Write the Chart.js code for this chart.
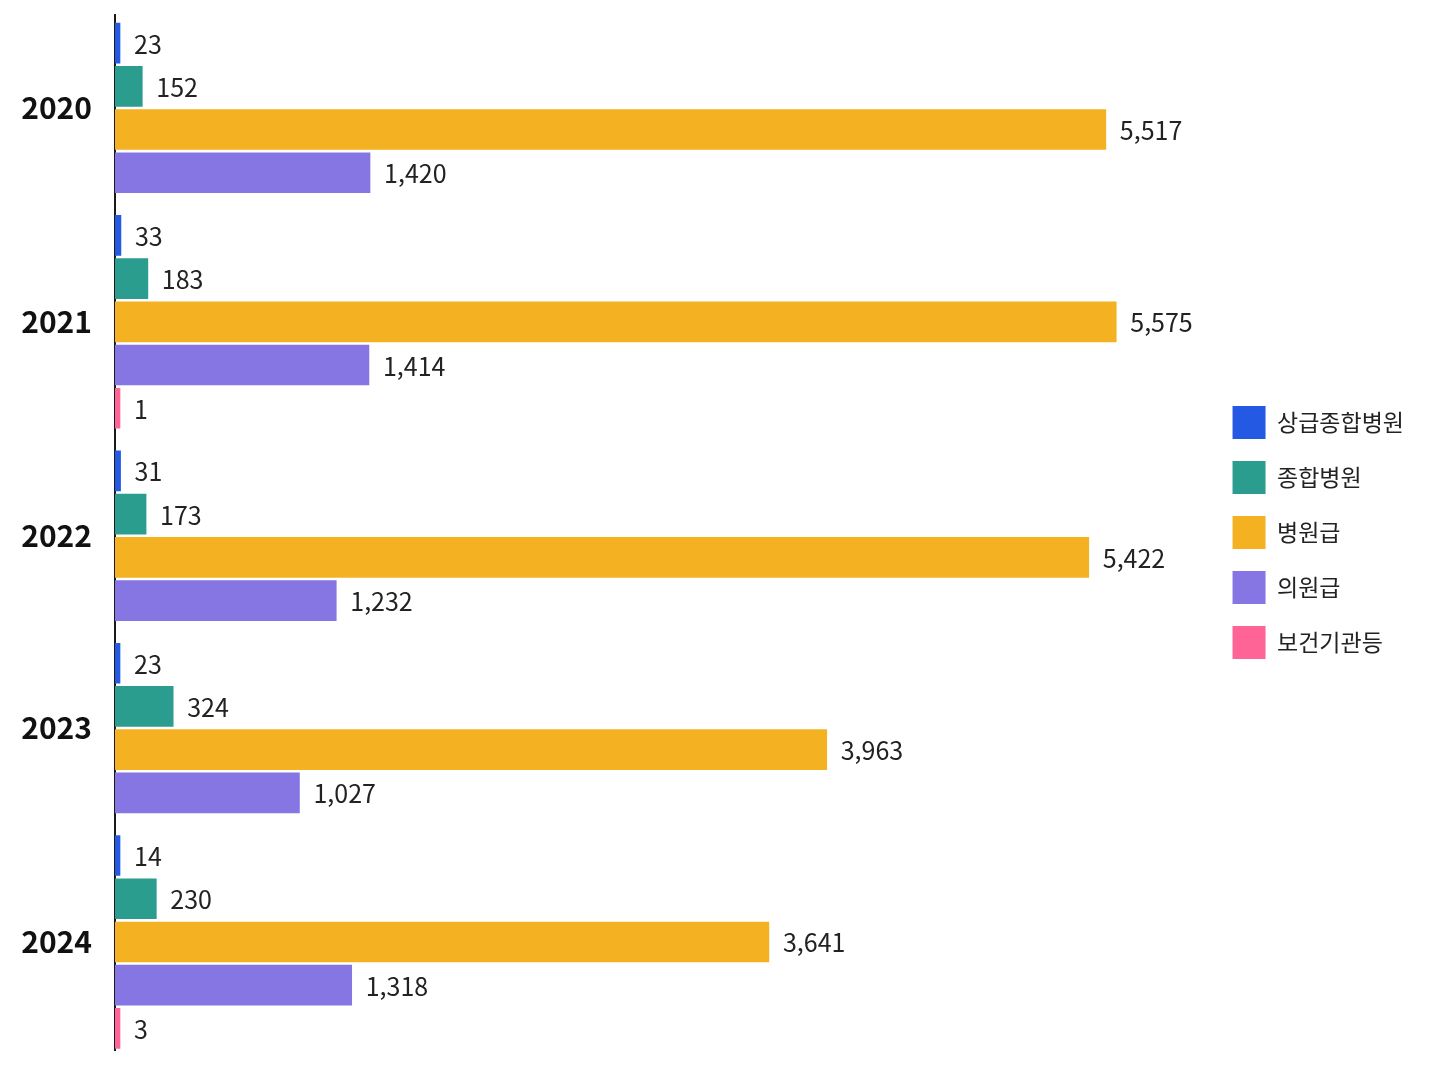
<!DOCTYPE html>
<html lang="ko">
<head>
<meta charset="UTF-8">
<title>연도별 의료기관 종별 현황</title>
<script src="https://cdn.jsdelivr.net/npm/chart.js@4.4.1/dist/chart.umd.min.js"></script>
<style>
  html, body { margin: 0; padding: 0; background: #fff; }
  .chart-wrap { width: 1448px; height: 1086px; position: relative; }
</style>
</head>
<body>
<div class="chart-wrap"><canvas id="mainChart"></canvas></div>
<script>
// 데이터
const years = ['2020', '2021', '2022', '2023', '2024'];
const seriesNames = ['상급종합병원', '종합병원', '병원급', '의원급', '보건기관등'];
const tertiaryValues = [23, 33, 31, 23, 14];
const generalValues = [152, 183, 173, 324, 230];
const hospitalValues = [5517, 5575, 5422, 3963, 3641];
const clinicValues = [1420, 1414, 1232, 1027, 1318];
const publicValues = [null, 1, null, null, 3];
const seriesColors = ['#2459e4', '#2a9d8f', '#f4b223', '#8676e3', '#ff6496'];

const FONT = "'Noto Sans CJK KR', 'Noto Sans', sans-serif";
const GROUP_GAP = 0.45;

// 각 막대의 행 위치 계산 (값이 없는 항목은 건너뜀)
function buildRows() {
    const allSeries = [tertiaryValues, generalValues, hospitalValues, clinicValues, publicValues];
    const points = allSeries.map(() => []);
    const centers = [];
    let pos = 0;
    years.forEach((year, i) => {
        const first = pos;
        allSeries.forEach((values, s) => {
            if (values[i] === null) return;
            points[s].push({ x: values[i], y: pos });
            pos += 1;
        });
        centers.push((first + pos - 1) / 2);
        pos += GROUP_GAP;
    });
    return { points, centers, last: pos - 1 - GROUP_GAP };
}

// 막대 끝에 값 표시
const valueLabelPlugin = {
    id: 'valueLabels',
    afterDatasetsDraw(chart) {
        const ctx = chart.ctx;
        ctx.save();
        ctx.font = `25px ${FONT}`;
        ctx.fillStyle = '#222';
        ctx.textAlign = 'left';
        ctx.textBaseline = 'middle';
        chart.data.datasets.forEach((ds, di) => {
            const meta = chart.getDatasetMeta(di);
            meta.data.forEach((bar, j) => {
                ctx.fillText(ds.data[j].x.toLocaleString('en-US'), bar.x + 14, bar.y + 1);
            });
        });
        ctx.restore();
    }
};

const rows = buildRows();

new Chart(document.getElementById('mainChart'), {
    type: 'bar',
    data: {
        datasets: seriesNames.map((name, s) => ({
            label: name,
            data: rows.points[s],
            backgroundColor: seriesColors[s],
            barThickness: 40,
            minBarLength: 5,
            grouped: false
        }))
    },
    options: {
        indexAxis: 'y',
        responsive: true,
        maintainAspectRatio: false,
        animation: false,
        layout: { padding: { top: 15, bottom: 36, left: 0, right: 34 } },
        scales: {
            x: {
                type: 'linear',
                display: false,
                min: 0,
                max: 6100
            },
            y: {
                type: 'linear',
                reverse: true,
                offset: false,
                min: -0.65,
                max: rows.last + 0.5,
                grid: { display: false, drawTicks: false },
                border: { display: true, color: '#1a1a1a', width: 2 },
                afterBuildTicks: (axis) => {
                    axis.ticks = rows.centers.map(v => ({ value: v }));
                },
                afterFit: (axis) => {
                    axis.width = 115;
                    axis.paddingTop = 0;
                    axis.paddingBottom = 0;
                },
                ticks: {
                    autoSkip: false,
                    padding: 23,
                    color: '#111',
                    font: { family: FONT, size: 30, weight: 'bold' },
                    callback: (value, index) => years[index]
                }
            }
        },
        plugins: {
            legend: {
                position: 'right',
                align: 'center',
                labels: {
                    boxWidth: 33,
                    boxHeight: 33,
                    padding: 22,
                    color: '#222',
                    font: { family: FONT, size: 23 }
                }
            },
            tooltip: { enabled: false }
        }
    },
    plugins: [valueLabelPlugin]
});
</script>
</body>
</html>
